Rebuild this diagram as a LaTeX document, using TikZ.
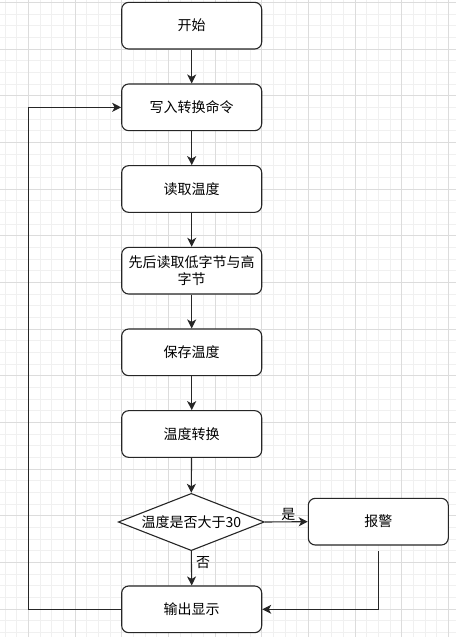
\documentclass[tikz,border=0pt]{standalone}
\usepackage{fontspec}
\setmainfont{Noto Sans CJK SC}
\usetikzlibrary{shapes.geometric,arrows.meta}
\definecolor{gridminor}{RGB}{240,240,240}
\definecolor{gridmajor}{RGB}{220,220,220}
\tikzset{
  stepbox/.style={draw=black!85, line width=1.1pt, rounded corners=7pt, fill=white,
    minimum width=140pt, minimum height=46.67pt, inner sep=0pt, align=center,
    font=\fontsize{14}{16.7}\selectfont},
  decision/.style={draw=black!85, line width=1.1pt, diamond, fill=white,
    minimum width=146pt, minimum height=57.3pt, inner sep=0pt},
  txt/.style={inner sep=0pt, font=\fontsize{14}{16.7}\selectfont},
  flow/.style={line width=1.1pt, draw=black!85, -{Stealth[length=9pt,width=9pt,inset=2.5pt]}},
}
\begin{document}
\begin{tikzpicture}[x=1pt,y=-1pt]
\useasboundingbox (0,0) rectangle (456,637);
\fill[white] (0,0) rectangle (456,637);
% grid
\foreach \i in {0,...,38} {
  \draw[gridminor, line width=0.8pt] ({5+11.667*\i},0) -- ({5+11.667*\i},637);
}
\foreach \i in {0,...,54} {
  \draw[gridminor, line width=0.8pt] (0,{2.33+11.667*\i}) -- (456,{2.33+11.667*\i});
}
\foreach \i in {0,...,9} {
  \draw[gridmajor, line width=0.8pt] ({28.33+46.667*\i},0) -- ({28.33+46.667*\i},637);
}
\foreach \i in {0,...,13} {
  \draw[gridmajor, line width=0.8pt] (0,{2.33+46.667*\i}) -- (456,{2.33+46.667*\i});
}
% nodes
\node[stepbox] (start) at (191.7,25.67) {开始};
\node[stepbox] (write) at (191.7,107.33) {写入转换命令};
\node[stepbox] (read) at (191.7,189) {读取温度};
\node[stepbox] (bytes) at (191.7,270.67) {先后读取低字节与高\\字节};
\node[stepbox] (save) at (191.7,352.33) {保存温度};
\node[stepbox] (conv) at (191.7,434) {温度转换};
\node[decision] (dia) at (191.3,522) {};
\node[txt] (diatext) at (191.3,522) {温度是否大于30};
\node[stepbox] (alarm) at (378.3,521.67) {报警};
\node[stepbox] (out) at (191.7,609.33) {输出显示};
\coordinate (loopx) at (28.33,0);
% connectors
\draw[flow] (start) -- (write);
\draw[flow] (write) -- (read);
\draw[flow] (read) -- (bytes);
\draw[flow] (bytes) -- (save);
\draw[flow] (save) -- (conv);
\draw[flow] (conv) -- (dia.north);
\draw[flow] (dia.east) -- (alarm.west);
\node[txt] (yes) at (288.3,514.5) {是};
\draw[flow] (dia.south) -- (out.north);
\node[txt] (no) at (203,562.7) {否};
\draw[flow] ([yshift=-5.7pt]alarm.south) |- (out.east);
\draw[flow] (out.west) -- (out.west -| loopx) |- (write.west);
\end{tikzpicture}
\end{document}
